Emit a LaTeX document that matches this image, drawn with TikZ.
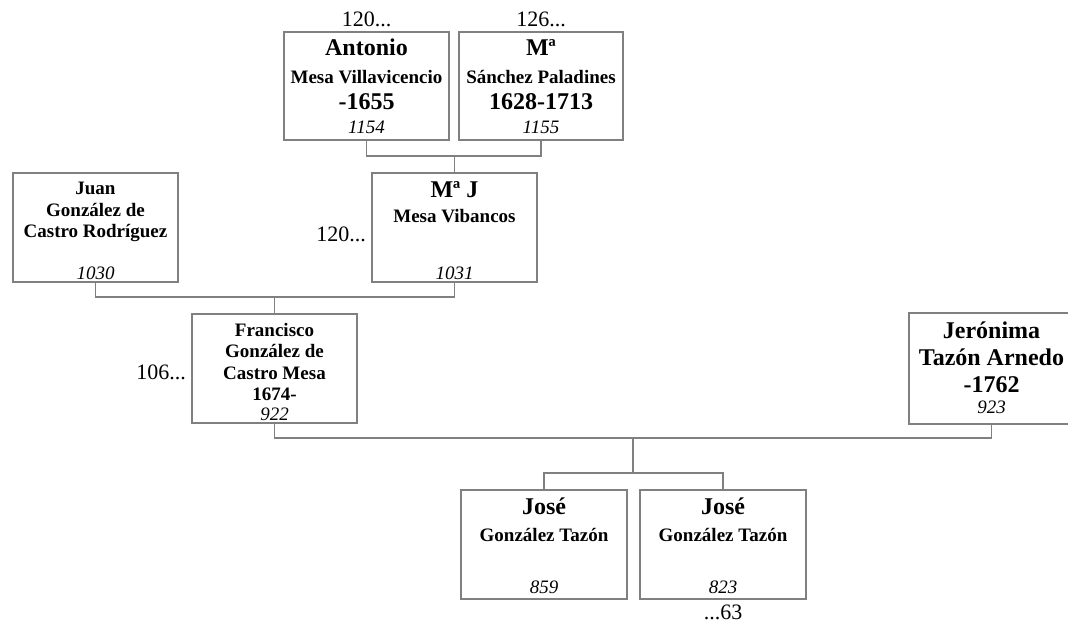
\documentclass[tikz,border=0pt]{standalone}
\usepackage{fontspec}
\setmainfont{Liberation Serif}
\begin{document}
\begin{tikzpicture}[x=1pt,y=-1pt,
  linecol/.style={draw={rgb,255:red,128;green,128;blue,128}, line width=1.2pt},
  person/.style={linecol, rectangle, inner sep=0pt, minimum height=108pt, fill=white},
  txt/.style={anchor=base, inner sep=0pt},
  big/.style={txt, font=\fontsize{24}{28}\selectfont\bfseries},
  mid/.style={txt, font=\fontsize{19}{22}\selectfont\bfseries},
  num/.style={txt, font=\fontsize{19}{22}\selectfont\itshape},
  lab/.style={txt, font=\fontsize{22}{26}\selectfont},
  conn/.style={linecol}]
\useasboundingbox (0,0) rectangle (1068,626);

% boxes
\node[person, minimum width=165pt] (A) at (366.5,86) {};
\node[person, minimum width=164pt] (B) at (541,86) {};
\node[person, minimum width=165pt, minimum height=109pt] (C) at (95.5,227.5) {};
\node[person, minimum width=165pt, minimum height=109pt] (D) at (454.5,227.5) {};
\node[person, minimum width=165pt, minimum height=109pt] (E) at (274.5,368.5) {};
\node[person, minimum width=165pt, minimum height=111pt] (F) at (991.5,368.5) {};
\node[person, minimum width=166pt, minimum height=109pt] (G) at (544,544.5) {};
\node[person, minimum width=166pt, minimum height=109pt] (H) at (723,544.5) {};

% connectors
\coordinate (j1) at (454.5,156);
\coordinate (j2) at (274.5,297);
\coordinate (j3) at (633,438);
\coordinate (j4) at (633,473);
\draw[conn] (A.south) |- (j1) -| (B.south);
\draw[conn] (j1) -- (D.north);
\draw[conn] (C.south) |- (j2) -| (D.south);
\draw[conn] (j2) -- (E.north);
\draw[conn] (E.south) |- (j3) -| (F.south);
\draw[conn] (j3) -- (j4);
\draw[conn] (G.north) |- (j4) -| (H.north);

% Antonio
\node[lab] (An) at (366.5,27) {120...};
\node[big] (A1) at (366.5,56) {Antonio};
\node[mid] (A2) at (366.5,83) {Mesa Villavicencio};
\node[big] (A3) at (366.5,109) {-1655};
\node[num] (A4) at (366.5,133) {1154};

% Ma Sanchez
\node[lab] (Bn) at (541,27) {126...};
\node[big] (B1) at (541,56) {Mª};
\node[mid] (B2) at (541,83) {Sánchez Paladines};
\node[big] (B3) at (541,109) {1628-1713};
\node[num] (B4) at (541,133) {1155};

% Juan
\node[mid] (C1) at (95.5,194) {Juan};
\node[mid] (C2) at (95.5,216) {González de};
\node[mid] (C3) at (95.5,237) {Castro Rodríguez};
\node[num] (C4) at (95.5,279) {1030};

% Ma J
\node[lab, anchor=base east] (Dn) at (366,241) {120...};
\node[big] (D1) at (454.5,197) {Mª J};
\node[mid] (D2) at (454.5,222) {Mesa Vibancos};
\node[num] (D4) at (454.5,279) {1031};

% Francisco
\node[lab, anchor=base east] (En) at (186,379) {106...};
\node[mid] (E1) at (274.5,336) {Francisco};
\node[mid] (E2) at (274.5,357) {González de};
\node[mid] (E3) at (274.5,379) {Castro Mesa};
\node[mid] (E4) at (274.5,400) {1674-};
\node[num] (E5) at (274.5,420) {922};

% Jeronima
\node[big] (F1) at (991.5,338) {Jerónima};
\node[big] (F2) at (991.5,365) {Tazón Arnedo};
\node[big] (F3) at (991.5,392) {-1762};
\node[num] (F4) at (991.5,413) {923};

% Jose 1
\node[big] (G1) at (544,514) {José};
\node[mid] (G2) at (544,541) {González Tazón};
\node[num] (G3) at (544,593) {859};

% Jose 2
\node[big] (H1) at (723,514) {José};
\node[mid] (H2) at (723,541) {González Tazón};
\node[num] (H3) at (723,593) {823};
\node[lab] (Hn) at (723,619) {...63};
\end{tikzpicture}
\end{document}
